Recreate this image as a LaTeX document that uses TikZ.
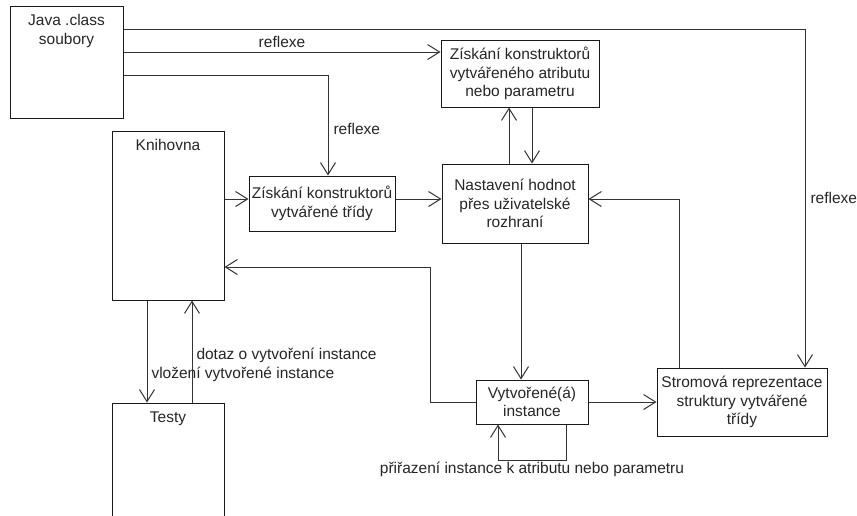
\documentclass[tikz,border=0pt]{standalone}
\usepackage{fontspec}
\setmainfont{Liberation Sans}
\usetikzlibrary{arrows.meta,positioning}

\begin{document}
\begin{tikzpicture}[x=1pt, y=-1pt,
	font=\fontsize{15.5}{18.5}\selectfont, text=black!85,
	box/.style={draw=black!90, line width=1pt, align=center, inner sep=0pt},
	lbl/.style={inner sep=0pt, align=center},
	arr/.style={draw=black!80, line width=1pt, -{Straight Barb[length=12pt,width=15pt]}}]
	\useasboundingbox (0,0) rectangle (857,515);
	\fill[white] (0,0) rectangle (857,515);
	\clip (0,0) rectangle (857,515);
	\node[box, minimum width=113pt, minimum height=112pt] (java) at (66.5,62) {};
	\node[lbl, below=9pt of java.north] (javat) {Java .class\\soubory};
	\node[box, minimum width=112pt, minimum height=169pt] (knih) at (168,215.5) {};
	\node[lbl, below=9pt of knih.north] (kniht) {Knihovna};
	\node[box, minimum width=112pt, minimum height=150pt] (testy) at (168,478) {};
	\node[lbl, below=9pt of testy.north] (testyt) {Testy};
	\node[box, minimum width=146pt, minimum height=55pt] (ztr) at (322,203.5) {Získání konstruktorů\\vytvářené třídy};
	\node[box, minimum width=158pt, minimum height=67pt] (zattr) at (520,73.5) {Získání konstruktorů\\vytvářeného atributu\\nebo parametru};
	\node[box, minimum width=146pt, minimum height=79pt] (nast) at (515,203.5) {Nastavení hodnot\\přes uživatelské\\rozhraní};
	\node[box, minimum width=112pt, minimum height=44pt] (vytv) at (532,402) {Vytvořené(á)\\instance};
	\node[box, minimum width=170pt, minimum height=68pt] (strom) at (742,402) {Stromová reprezentace\\struktury vytvářené\\třídy};

	\coordinate (ra) at (805,29);
	\coordinate (rb) at (0,52);
	\coordinate (rc) at (328,75);
	\coordinate (rd) at (0,199);
	\coordinate (ua) at (509,0);
	\coordinate (ub) at (532,0);
	\coordinate (uc) at (521,0);
	\coordinate (sa) at (679,0);
	\coordinate (ka) at (430,267);
	\coordinate (la) at (566,460);
	\coordinate (lb) at (498,0);
	\coordinate (ta) at (147,0);
	\coordinate (tb) at (192,0);

	\draw[arr] (java.east |- ra) -| (strom.north -| ra) node[lbl, pos=0.75, right=5pt] {reflexe};
	\draw[arr] (java.east |- rb) -- (zattr.west |- rb) node[lbl, midway, above=4pt] {reflexe};
	\draw[arr] (java.east |- rc) -| (ztr.north -| rc) node[lbl, pos=0.77, right=5pt] {reflexe};
	\draw[arr] (knih.east |- rd) -- (ztr.west |- rd);
	\draw[arr] (ztr.east |- rd) -- (nast.west |- rd);
	\draw[arr] (nast.north -| ua) -- (zattr.south -| ua);
	\draw[arr] (zattr.south -| ub) -- (nast.north -| ub);
	\draw[arr] (nast.south -| uc) -- (vytv.north -| uc);
	\draw[arr] (strom.north -| sa) |- (nast.east |- rd);
	\draw[arr] (vytv.east) -- (strom.west |- vytv.east);
	\draw[arr] (vytv.west) -| (ka) -- (knih.east |- ka);
	\draw[arr] (vytv.south -| la) -- (la) -- node[lbl, below=2pt] {přiřazení instance k atributu nebo parametru} (lb |- la) -- (vytv.south -| lb);
	\draw[arr] (knih.south -| ta) -- (testy.north -| ta) node[lbl, pos=0.72, right=4pt] {vložení vytvořené instance};
	\draw[arr] (testy.north -| tb) -- (knih.south -| tb) node[lbl, pos=0.46, right=4pt] {dotaz o vytvoření instance};
\end{tikzpicture}
\end{document}
